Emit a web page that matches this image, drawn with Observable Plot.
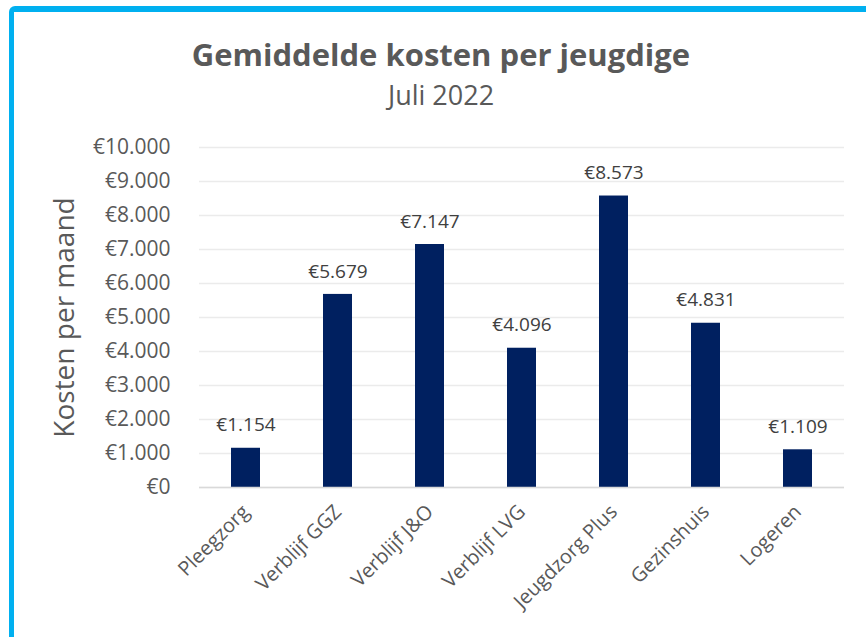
<!DOCTYPE html>
<html>
<head>
<meta charset="utf-8">
<script src="https://cdn.jsdelivr.net/npm/d3@7"></script>
<script src="https://cdn.jsdelivr.net/npm/@observablehq/plot@0.6"></script>
<style>
  html, body { margin: 0; padding: 0; background: #fff; }
  #wrap { position: relative; width: 866px; height: 637px; overflow: hidden; font-family: "Open Sans", sans-serif; }
  #frame { position: absolute; left: 9px; top: 6px; width: 900px; height: 700px; border-left: 5px solid #00B0F0; border-top: 6px solid #00B0F0; border-top-left-radius: 6px; pointer-events: none; z-index: 2; }
  #title { position: absolute; left: 0; width: 882px; top: 33px; text-align: center; font-weight: 700; font-size: 31px; line-height: 1.362; color: #595959; z-index: 1; }
  #subtitle { position: absolute; left: 0; width: 882px; top: 77px; text-align: center; font-size: 27px; line-height: 1.362; color: #595959; z-index: 1; }
  #chart { position: absolute; left: 0; top: 0; }
</style>
</head>
<body>
<div id="wrap">
  <div id="chart"></div>
  <div id="title">Gemiddelde kosten per jeugdige</div>
  <div id="subtitle">Juli 2022</div>
  <div id="frame"></div>
</div>
<script>
const categories = ["Pleegzorg", "Verblijf GGZ", "Verblijf J&O", "Verblijf LVG", "Jeugdzorg Plus", "Gezinshuis", "Logeren"];
const values = [1154, 5679, 7147, 4096, 8573, 4831, 1109];
const yTicks = [0, 1000, 2000, 3000, 4000, 5000, 6000, 7000, 8000, 9000, 10000];

const data = categories.map((c, i) => ({cat: c, value: values[i]}));
const locale = d3.formatLocale({decimal: ",", thousands: ".", grouping: [3], currency: ["€", ""]});
const euro = locale.format("$,.0f");

const chart = Plot.plot({
  width: 866,
  height: 637,
  marginLeft: 199,
  marginRight: 22,
  marginTop: 147,
  marginBottom: 150,
  style: {background: "transparent", fontFamily: "Open Sans, sans-serif", color: "#595959"},
  x: {domain: categories, paddingInner: 0.685, paddingOuter: 0.3425, label: null},
  y: {domain: [0, 10000], label: null},
  marks: [
    Plot.gridY(yTicks, {stroke: "#ebebeb", strokeOpacity: 1, strokeWidth: 1.3}),
    Plot.axisY({ticks: yTicks, tickFormat: euro, tickSize: 0, tickPadding: 29, fontSize: 21, fill: "#595959", label: null}),
    Plot.axisX({tickSize: 0, tickRotate: -45, tickPadding: 21, fontSize: 20, fill: "#595959", label: null}),
    Plot.barY(data, {x: "cat", y: "value", fill: "#002060"}),
    Plot.ruleY([0], {stroke: "#d9d9d9", strokeWidth: 1.5}),
    Plot.text(data, {x: "cat", y: "value", text: d => euro(d.value), dy: -23, lineAnchor: "middle", fontSize: 19, fill: "#404040"}),
    Plot.text(["Kosten per maand"], {frameAnchor: "left", dx: -134, rotate: -90, textAnchor: "middle", lineAnchor: "middle", fontSize: 28, fill: "#595959"})
  ]
});
document.getElementById("chart").appendChild(chart);
</script>
</body>
</html>
